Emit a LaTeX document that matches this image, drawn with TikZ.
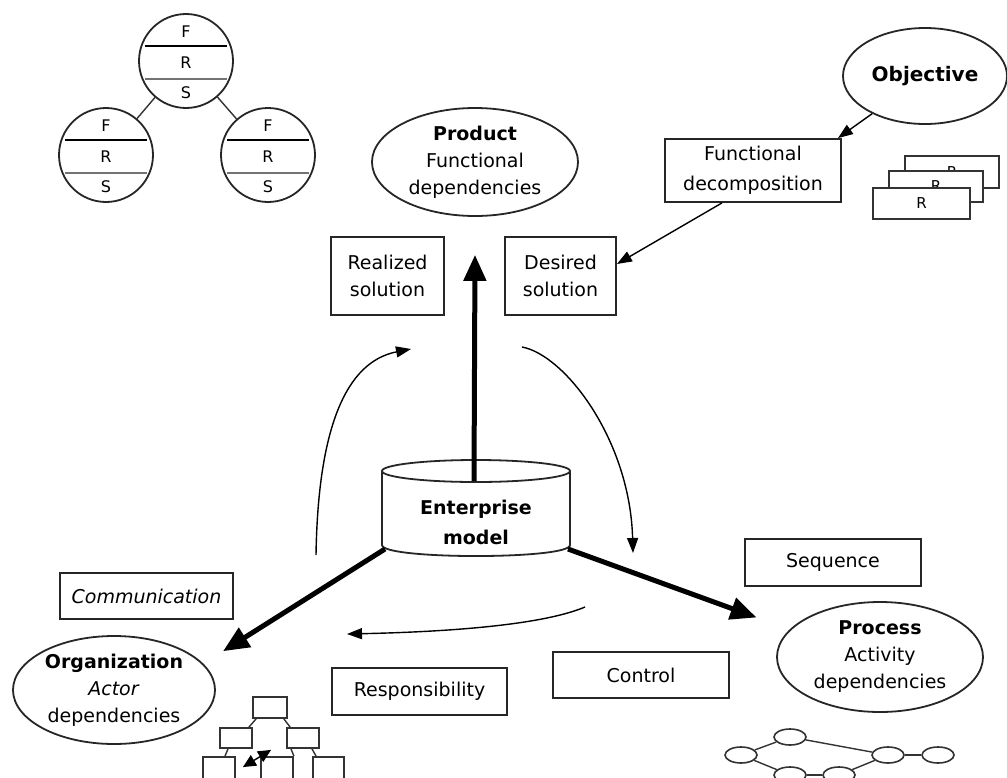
\documentclass[tikz,border=0pt]{standalone}
\usepackage{fontspec}
\setmainfont{DejaVu Sans}
\usetikzlibrary{arrows.meta,shapes.geometric}
\begin{document}
\begin{tikzpicture}[x=1pt,y=-1pt,
  txt/.style={font=\fontsize{19}{27}\selectfont, align=center},
  box/.style={draw=black!85, line width=1.8pt, rectangle, inner sep=0pt, txt},
  oval/.style={draw=black!85, line width=1.8pt, ellipse, inner sep=0pt, txt},
  frs/.style={draw=black!85, line width=1.8pt, circle, minimum size=94pt, inner sep=0pt},
  frslabel/.style={font=\fontsize{16}{18}\selectfont, inner sep=0pt},
  thinarrow/.style={draw=black, line width=1.4pt, -{Triangle[length=15pt,width=11pt]}},
  bigarrow/.style={draw=black, line width=5pt, -{Triangle[length=26pt,width=22pt]}},
  minibox/.style={draw=black!80, line width=1.8pt, rectangle, inner sep=0pt, fill=white},
  minioval/.style={draw=black!80, line width=1.6pt, ellipse, inner sep=0pt, minimum width=32pt, minimum height=16pt},
  tiny/.style={line width=1.4pt, draw=black!80}
]
\useasboundingbox (0,0) rectangle (1007,777);
\clip (0,0) rectangle (1007,777);
\fill[white] (0,0) rectangle (1007,777);

% F/R/S tree
\node[frs] (t) at (186,61) {};
\node[frs] (l) at (106,155) {};
\node[frs] (r) at (268,155) {};
\draw[tiny] (t) -- (l);
\draw[tiny] (t) -- (r);
\foreach \c in {t,l,r}{
  \draw[line width=1.8pt] ([shift={(-41,-15)}]\c.center) -- ++(82,0);
  \draw[line width=2.4pt, black!55] ([shift={(-41,18)}]\c.center) -- ++(82,0);
  \node[frslabel] (\c F) at ([yshift=29pt]\c.center) {F};
  \node[frslabel] (\c R) at ([yshift=-2pt]\c.center) {R};
  \node[frslabel] (\c S) at ([yshift=-32pt]\c.center) {S};
}

% product side
\node[oval, minimum width=206pt, minimum height=108pt] (prod) at (475,162)
  {\textbf{Product}\\Functional\\dependencies};
\node[box, minimum width=113pt, minimum height=78pt] (real) at (387.5,276) {Realized\\solution};
\node[box, minimum width=111pt, minimum height=78pt] (des) at (560.5,276) {Desired\\solution};
\node[oval, minimum width=164pt, minimum height=96pt, font=\fontsize{20}{24}\selectfont\bfseries] (obj) at (925,76) {Objective};
\node[box, minimum width=176pt, minimum height=63pt, font=\fontsize{19}{30}\selectfont] (fd) at (753,170.5) {Functional\\decomposition};

% stacked requirement cards
\node[minibox, minimum width=94pt, minimum height=32pt, font=\fontsize{15}{17}\selectfont] (rb) at (952,172) {R};
\node[minibox, minimum width=94pt, minimum height=31pt, font=\fontsize{15}{17}\selectfont] (rm) at (936,186.5) {R};
\node[minibox, minimum width=97pt, minimum height=31pt, font=\fontsize{15}{17}\selectfont] (rf) at (921.5,203.5) {R};

\draw[thinarrow] (obj) -- ([xshift=-4pt]fd.north east);
\draw[thinarrow] ([xshift=-31pt]fd.south) -- ([yshift=12pt]des.east);

% organization and process
\node[oval, minimum width=202pt, minimum height=108pt] (org) at (114,690)
  {\textbf{Organization}\\\textit{Actor}\\dependencies};
\node[oval, minimum width=206pt, minimum height=110pt] (proc) at (880,657)
  {\textbf{Process}\\Activity\\dependencies};
\node[box, minimum width=173pt, minimum height=46pt] (comm) at (146.5,596) {\textit{Communication}};
\node[box, minimum width=175pt, minimum height=47pt] (resp) at (419.5,691.5) {Responsibility};
\node[box, minimum width=176pt, minimum height=46pt] (ctrl) at (641,675) {Control};
\node[box, minimum width=176pt, minimum height=47pt] (seq) at (833,562.5) {Sequence};

% enterprise model cylinder
\draw[line width=1.8pt, black!85, fill=white] (382,471) -- (382,545)
  .. controls (382,559.7) and (570,559.7) .. (570,545) -- (570,471);
\draw[line width=1.8pt, black!85] (476,471) ellipse [x radius=94, y radius=11];
\node[font=\fontsize{19}{30}\selectfont\bfseries, align=center] (em) at (476,522) {Enterprise\\model};
\coordinate (emTop) at (474,481);
\coordinate (emBL) at (385,549);
\coordinate (emBR) at (568,549);

\draw[bigarrow] (emTop) -- ([yshift=-38pt]prod.south);
\draw[bigarrow] (emBL) -- ([xshift=37pt]org.north east);
\draw[bigarrow] (emBR) -- ([xshift=-50pt]proc.north west);

% cycle arrows
\coordinate (la0) at (316,555); \coordinate (la1) at (411,349);
\draw[thinarrow] (la0) .. controls (318,430) and (345,362) .. (la1);
\coordinate (ra0) at (522,347); \coordinate (ra1) at (633,553);
\draw[thinarrow] (ra0) .. controls (565,355) and (630,440) .. (ra1);
\coordinate (ba0) at (585,607); \coordinate (ba1) at (347,634);
\draw[thinarrow] (ba0) .. controls (540,626) and (440,632) .. (ba1);

% organization chart
\node[minibox, minimum width=34pt, minimum height=21pt] (oc0) at (270,707.5) {};
\node[minibox, minimum width=32pt, minimum height=20pt] (oc1) at (236,738) {};
\node[minibox, minimum width=32pt, minimum height=20pt] (oc2) at (303,738) {};
\node[minibox, minimum width=32pt, minimum height=26pt] (oc3) at (219,770) {};
\node[minibox, minimum width=32pt, minimum height=26pt] (oc4) at (277,770) {};
\node[minibox, minimum width=31pt, minimum height=26pt] (oc5) at (328.5,770) {};
\draw[tiny] ([xshift=4pt]oc0.south west) -- ([xshift=-4pt]oc1.north east);
\draw[tiny] ([xshift=-4pt]oc0.south east) -- ([xshift=4pt]oc2.north west);
\draw[tiny] ([xshift=-8pt]oc1.south) -- ([xshift=6pt]oc3.north);
\draw[tiny] ([xshift=9pt]oc2.south) -- ([xshift=4pt]oc5.north west);
\draw[tiny] ([xshift=-12pt]oc2.south) -- (oc4.north east);
\draw[line width=1.4pt, {Triangle[length=13pt,width=12pt]}-{Triangle[length=13pt,width=12pt]}]
  ([xshift=7pt,yshift=-11pt]oc3.north east) -- ([xshift=-15pt,yshift=-1pt]oc2.south west);

% activity graph
\node[minioval] (p1) at (741,755) {};
\node[minioval] (p2) at (790,737) {};
\node[minioval] (p3) at (790,775) {};
\node[minioval] (p4) at (839,775) {};
\node[minioval] (p5) at (888,755) {};
\node[minioval] (p6) at (938,755) {};
\draw[tiny] (p1) -- (p2);
\draw[tiny] (p1) -- (p3);
\draw[tiny] (p2) -- (p5);
\draw[tiny] (p3) -- (p4);
\draw[tiny] (p4) -- (p5);
\draw[tiny] (p5) -- (p6);
\end{tikzpicture}
\end{document}
